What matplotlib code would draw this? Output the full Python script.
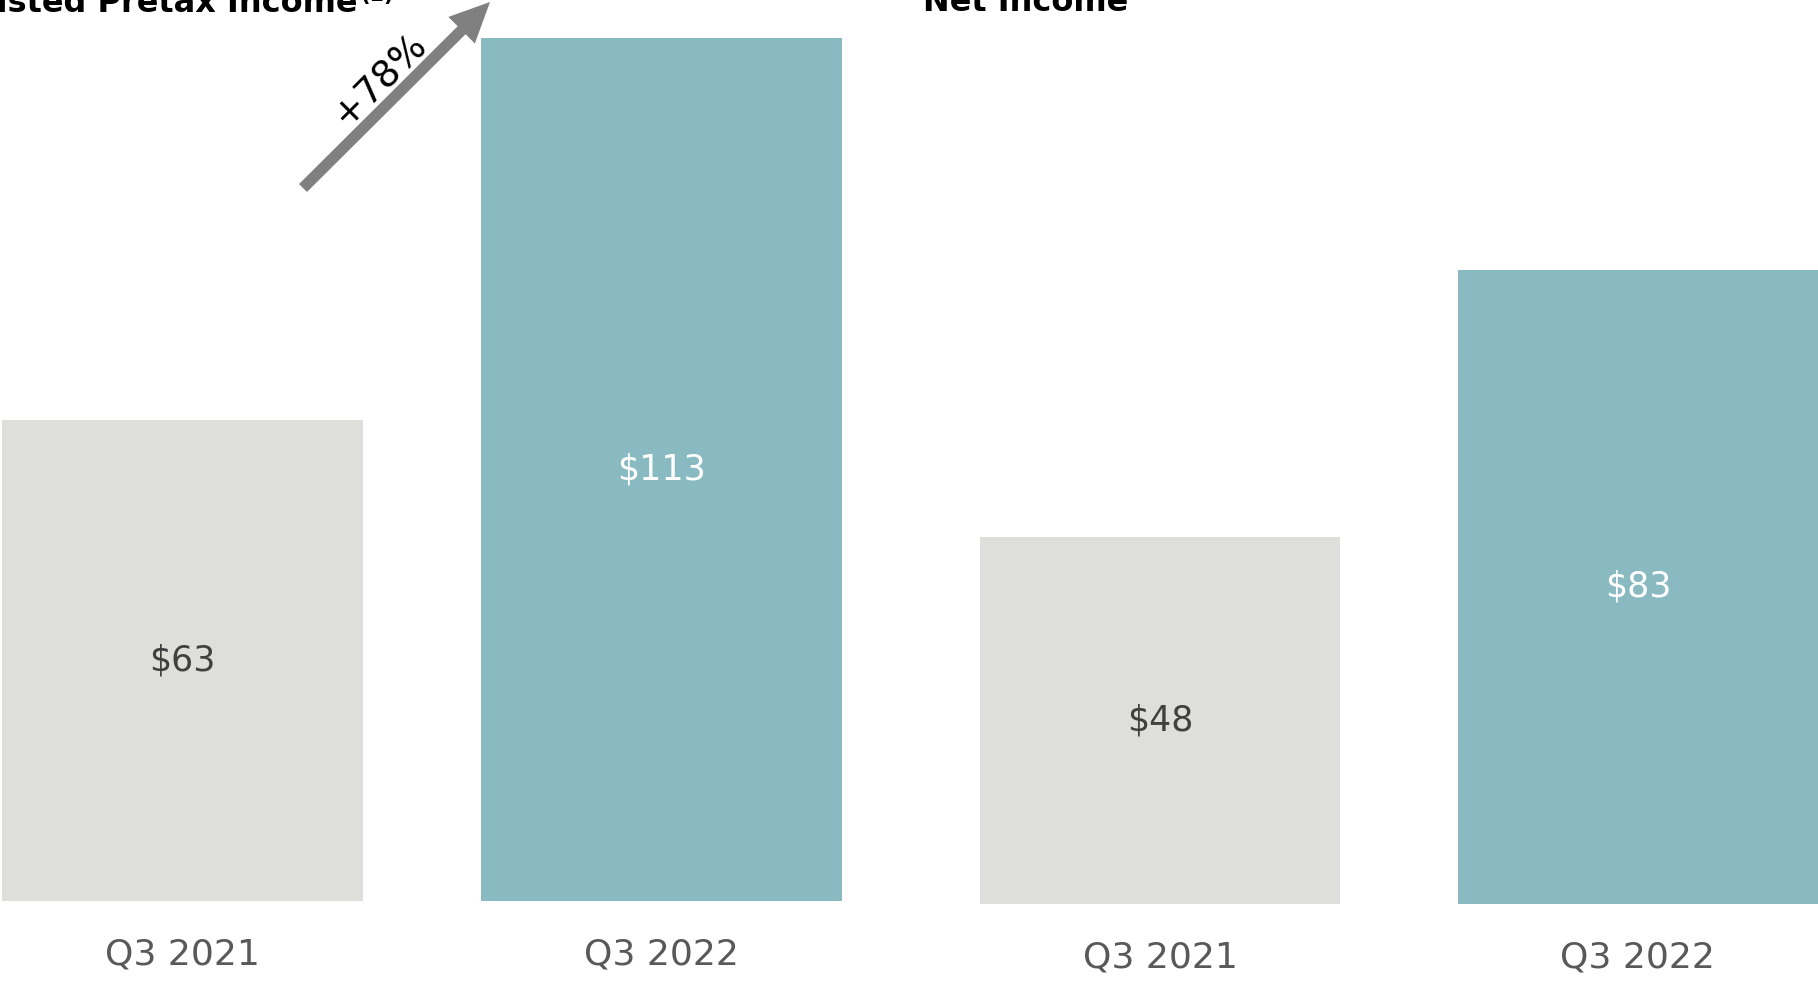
import matplotlib
matplotlib.use("Agg")
import matplotlib.pyplot as plt

# quarterly results, $ millions
periods = ["Q3 2021", "Q3 2022"]
pretax_income = [63, 113]
net_income = [48, 83]
growth_label = "+78%"

bar_colors = ["#DEDEDA", "#8ABAC1"]
value_colors = ["#404040", "#FFFFFF"]
tick_color = "#595959"

W, H = 1818, 981
fig = plt.figure(figsize=(W / 100, H / 100), dpi=100)
plt.rcParams["font.family"] = "DejaVu Sans"


def panel(left_px, bottom_px, width_px, xlim, values):
    ax = fig.add_axes([left_px / W, 1 - bottom_px / H, width_px / W, bottom_px / H])
    bars = ax.bar(range(len(values)), values, width=0.753, color=bar_colors)
    for b, v, c in zip(bars, values, value_colors):
        ax.text(b.get_x() + b.get_width() / 2, v / 2, f"${v}",
                ha="center", va="center", fontsize=25, color=c)
    ax.set_xlim(*xlim)
    ax.set_ylim(0, bottom_px / 7.64)
    ax.set_xticks(range(len(values)))
    ax.set_xticklabels(periods, fontsize=26, color=tick_color)
    ax.tick_params(axis="x", length=0, pad=26)
    ax.set_yticks([])
    for s in ax.spines.values():
        s.set_visible(False)
    ax.patch.set_alpha(0)
    return ax


ax1 = panel(0, 901, 900, (-0.381, 1.498), pretax_income)
ax2 = panel(900, 904, 918, (-0.544, 1.377), net_income)

# panel titles, running off the top edge
fig.text(358 / W, 1 - 12 / H, "Adjusted Pretax Income", ha="right", va="baseline",
         fontsize=23, fontweight="bold", color="black")
fig.text(360 / W, 1 - 1 / H, "(1)", ha="left", va="baseline",
         fontsize=15, fontweight="bold", color="black")
fig.text(923 / W, 1 - 11 / H, "Net Income", ha="left", va="baseline",
         fontsize=23, fontweight="bold", color="black")

# growth arrow
fig.add_artist(matplotlib.patches.FancyArrowPatch(
    (303 / W, 1 - 188 / H), (490 / W, 1 - 2 / H), transform=fig.transFigure,
    arrowstyle="simple,head_length=1.6,tail_width=0.45,head_width=1.5",
    mutation_scale=18, color="#808080", lw=0, shrinkA=0, shrinkB=0))
fig.text(380 / W, 1 - 80 / H, growth_label, rotation=45, rotation_mode="anchor",
         ha="center", va="center", fontsize=27, color="black")

fig.savefig("out.png", dpi=100)
